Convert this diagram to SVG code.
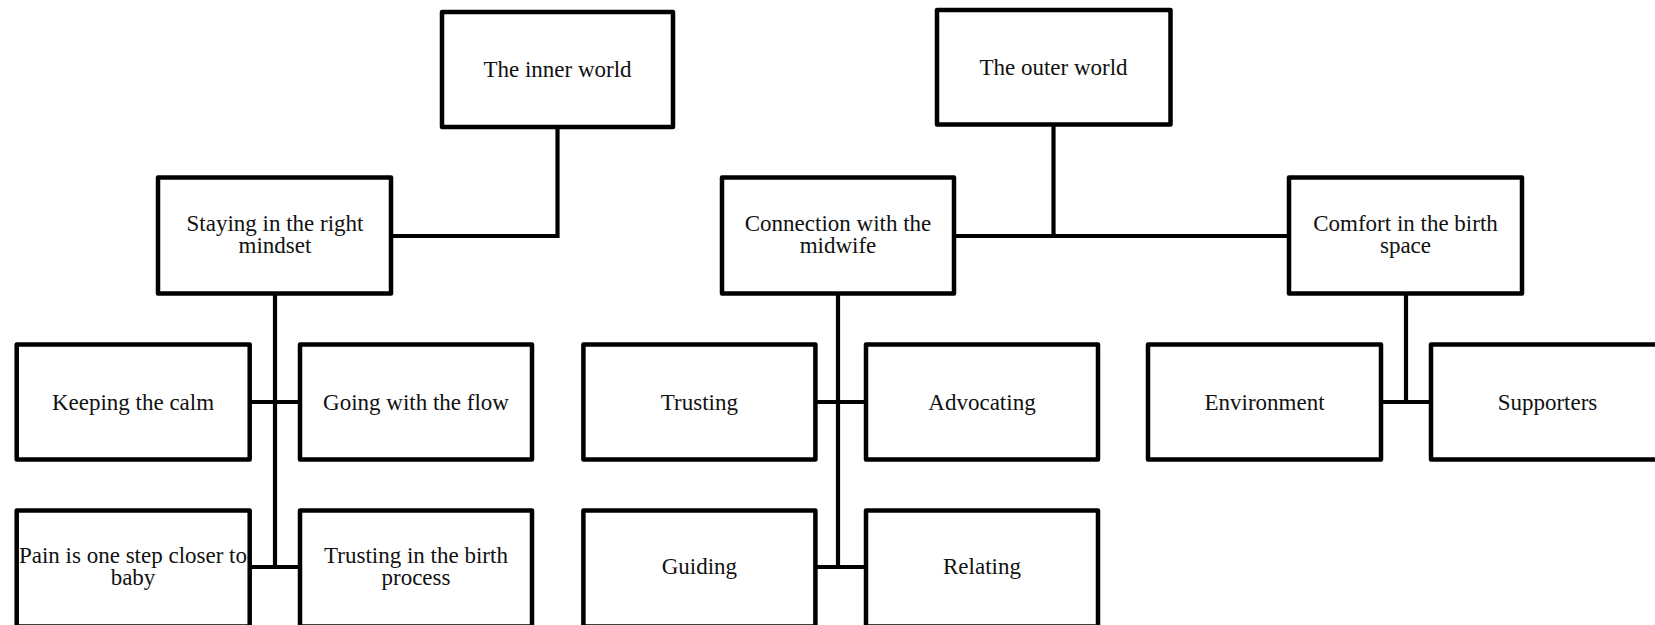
<svg xmlns="http://www.w3.org/2000/svg" width="1655" height="625" viewBox="0 0 1655 625">
<style>
.box{fill:#fff;stroke:#000;stroke-width:4.5;stroke-linejoin:round}
.lbl{font-family:"Liberation Serif","DejaVu Serif",serif;font-size:23px;fill:#111;text-anchor:middle}
.conn{fill:none;stroke:#000;stroke-width:4.2;stroke-linejoin:miter}
</style>
<rect width="1655" height="625" fill="#fff"/>
<g id="connectors">
<polyline class="conn" points="557.5,127 557.5,236 391.5,236"/>
<line class="conn" x1="1053.5" y1="124.5" x2="1053.5" y2="236"/>
<line class="conn" x1="954" y1="236" x2="1289" y2="236"/>
<line class="conn" x1="275" y1="293.5" x2="275" y2="567"/>
<line class="conn" x1="249.5" y1="402" x2="300" y2="402"/>
<line class="conn" x1="249.5" y1="567" x2="300" y2="567"/>
<line class="conn" x1="838" y1="293.5" x2="838" y2="567"/>
<line class="conn" x1="816" y1="402" x2="866" y2="402"/>
<line class="conn" x1="816" y1="567" x2="866" y2="567"/>
<line class="conn" x1="1406" y1="293.5" x2="1406" y2="402"/>
<line class="conn" x1="1381" y1="402" x2="1431" y2="402"/>
</g>
<g id="inner-world">
<rect class="box" x="442" y="12" width="231" height="115"/>
<text class="lbl" x="557.5" y="77">The inner world</text>
</g>
<g id="outer-world">
<rect class="box" x="937" y="10" width="233.5" height="114.5"/>
<text class="lbl" x="1053.5" y="75">The outer world</text>
</g>
<g id="staying">
<rect class="box" x="158" y="177.5" width="233" height="116"/>
<text class="lbl" x="275" y="231">Staying in the right</text>
<text class="lbl" x="275" y="253">mindset</text>
</g>
<g id="connection">
<rect class="box" x="722" y="177.5" width="232" height="116"/>
<text class="lbl" x="838" y="231">Connection with the</text>
<text class="lbl" x="838" y="253">midwife</text>
</g>
<g id="comfort">
<rect class="box" x="1289" y="177.5" width="233" height="116"/>
<text class="lbl" x="1405.5" y="231">Comfort in the birth</text>
<text class="lbl" x="1405.5" y="253">space</text>
</g>
<g id="keeping-calm">
<rect class="box" x="16.7" y="344.5" width="233" height="115"/>
<text class="lbl" x="133" y="410">Keeping the calm</text>
</g>
<g id="going-flow">
<rect class="box" x="300" y="344.5" width="232" height="115"/>
<text class="lbl" x="416" y="410">Going with the flow</text>
</g>
<g id="pain">
<rect class="box" x="16.7" y="510.5" width="233" height="116"/>
<text class="lbl" x="133" y="563">Pain is one step closer to</text>
<text class="lbl" x="133" y="585">baby</text>
</g>
<g id="trusting-birth">
<rect class="box" x="300" y="510.5" width="232" height="116"/>
<text class="lbl" x="416" y="563">Trusting in the birth</text>
<text class="lbl" x="416" y="585">process</text>
</g>
<g id="trusting">
<rect class="box" x="583.4" y="344.5" width="232" height="115"/>
<text class="lbl" x="699.4" y="410">Trusting</text>
</g>
<g id="advocating">
<rect class="box" x="866" y="344.5" width="232" height="115"/>
<text class="lbl" x="982" y="410">Advocating</text>
</g>
<g id="guiding">
<rect class="box" x="583.4" y="510.5" width="232" height="116"/>
<text class="lbl" x="699.4" y="574">Guiding</text>
</g>
<g id="relating">
<rect class="box" x="866" y="510.5" width="232" height="116"/>
<text class="lbl" x="982" y="574">Relating</text>
</g>
<g id="environment">
<rect class="box" x="1148" y="344.5" width="233" height="115"/>
<text class="lbl" x="1264.5" y="410">Environment</text>
</g>
<g id="supporters">
<rect class="box" x="1431" y="344.5" width="233" height="115"/>
<text class="lbl" x="1547.5" y="410">Supporters</text>
</g>
</svg>
